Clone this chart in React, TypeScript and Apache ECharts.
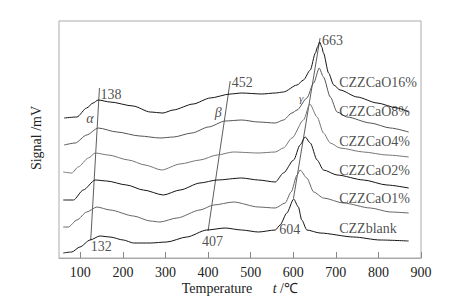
import React, { useEffect, useRef } from "react";
import * as echarts from "echarts";

// Temperature (°C) vs. signal (arbitrary offset units)
const seriesNames = ["CZZCaO16%", "CZZCaO8%", "CZZCaO4%", "CZZCaO2%", "CZZCaO1%", "CZZblank"];

const czz16: [number, number][] = [
  [62, 140], [92, 141], [115, 150], [130, 155], [142, 158], [170, 156], [224, 152], [264, 146],
  [294, 145], [318, 148], [365, 154], [405, 160], [452, 164], [479, 165], [526, 164], [558, 165],
  [577, 166], [609, 173], [624, 178], [640, 188], [652, 205], [657, 211], [662, 216], [667, 211],
  [671, 205], [683, 185], [695, 173], [710, 168], [750, 161], [797, 155], [844, 150], [871, 146],
];
const czz8: [number, number][] = [
  [62, 113], [88, 115], [115, 123], [142, 130], [186, 126], [240, 122], [287, 120], [319, 121],
  [362, 125], [401, 131], [440, 137], [479, 138], [518, 136], [558, 135], [577, 138], [597, 145],
  [609, 148], [632, 160], [648, 175], [661, 190], [671, 181], [687, 161], [703, 146], [726, 141],
  [781, 135], [828, 130], [871, 126],
];
const czz4: [number, number][] = [
  [60, 86], [80, 85], [95, 91], [119, 100], [135, 105], [166, 103], [213, 98], [252, 93],
  [291, 88], [334, 94], [381, 98], [421, 103], [459, 106], [518, 105], [558, 106], [577, 110],
  [597, 120], [624, 138], [639, 154], [656, 141], [671, 125], [687, 115], [710, 110], [765, 106],
  [820, 103], [871, 101],
];
const czz2: [number, number][] = [
  [60, 58], [84, 58], [107, 68], [135, 78], [162, 77], [209, 73], [248, 68], [295, 63],
  [334, 68], [381, 75], [421, 78], [479, 80], [518, 78], [558, 76], [577, 85], [601, 98],
  [616, 113], [628, 121], [640, 115], [656, 98], [671, 88], [703, 83], [765, 78], [820, 73],
  [871, 70],
];
const czz1: [number, number][] = [
  [60, 31], [72, 31], [92, 38], [115, 46], [139, 51], [170, 48], [225, 42], [264, 37],
  [287, 36], [327, 40], [381, 48], [413, 53], [460, 56], [518, 51], [558, 50], [581, 55],
  [595, 66], [609, 83], [616, 88], [632, 80], [648, 66], [671, 60], [718, 55], [781, 50],
  [828, 46], [871, 45],
];
const czzBlank: [number, number][] = [
  [60, 5], [80, 6], [99, 11], [123, 18], [146, 22], [170, 21], [201, 18], [225, 15],
  [264, 15], [303, 16], [350, 21], [397, 28], [440, 30], [479, 28], [518, 26], [558, 28],
  [569, 33], [585, 45], [601, 59], [612, 51], [620, 38], [632, 28], [663, 25], [742, 21],
  [804, 18], [871, 17],
];

// Peak guide lines (alpha, beta, gamma)
const alphaLine: [number, number][] = [[145, 170], [124.5, 18]];
const betaLine: [number, number][] = [[452, 177], [400, 27]];
const gammaLine: [number, number][] = [[663, 220], [600.6, 59.7]];

// Annotations: text, temperature at the text's left edge, signal
const peakLabels: [string, number, number][] = [
  ["138", 147.6, 164],
  ["132", 124.5, 11.5],
  ["452", 455.8, 176],
  ["407", 386, 16.3],
  ["663", 667.3, 217.5],
  ["604", 567, 29],
];
const greekLabels: [string, number, number][] = [
  ["α", 122.9, 140],
  ["β", 423.6, 146],
  ["γ", 618.7, 160],
];
const nameLabelT = 708;
const nameLabelY = [176, 146.3, 117, 88, 59.5, 29.3];

const xTicks = [100, 200, 300, 400, 500, 600, 700, 800, 900];

const lineColors = ["#151515", "#555555", "#777777", "#151515", "#666666", "#151515"];
const FONT = "'Liberation Serif', 'Times New Roman', serif";

export default function App() {
  const ref = useRef<HTMLDivElement>(null);
  useEffect(() => {
    const chart = echarts.init(ref.current!, null, { renderer: "svg" });
    const curves = [czz16, czz8, czz4, czz2, czz1, czzBlank];
    const lineSeries = curves.map((d, i) => ({
      type: "line",
      name: seriesNames[i],
      data: d,
      showSymbol: false,
      smooth: 0.25,
      smoothMonotone: "x",
      lineStyle: { color: lineColors[i], width: 1 },
      z: 3,
    }));
    const guideSeries = [alphaLine, betaLine, gammaLine].map((d) => ({
      type: "line",
      data: d,
      showSymbol: false,
      lineStyle: { color: "#333", width: 0.8 },
      z: 2,
    }));
    const labelData: any[] = [];
    peakLabels.forEach(([t, x, y]) =>
      labelData.push({
        value: [x, y],
        label: { show: true, formatter: t, position: "right", distance: 0, fontSize: 14 },
      })
    );
    greekLabels.forEach(([t, x, y], i) =>
      labelData.push({
        value: [x, y],
        label: {
          show: true,
          formatter: t,
          position: "inside",
          fontStyle: "italic",
          fontSize: i === 2 ? 11 : 14,
        },
      })
    );
    seriesNames.forEach((n, i) =>
      labelData.push({
        value: [nameLabelT, nameLabelY[i]],
        label: { show: true, formatter: n, position: "right", distance: 0, fontSize: 14 },
      })
    );
    chart.setOption({
      animation: false,
      backgroundColor: "#fff",
      grid: {
        left: 59,
        right: 37,
        top: 21,
        bottom: 49,
        show: true,
        borderColor: "#aaaaaa",
        borderWidth: 1,
        outerBoundsMode: "none",
      },
      xAxis: {
        type: "value",
        min: 50,
        max: 900,
        splitLine: { show: false },
        axisLine: { show: true, lineStyle: { color: "#aaaaaa" } },
        axisTick: {
          show: true,
          inside: true,
          length: 6,
          customValues: xTicks,
          lineStyle: { color: "#888888" },
        },
        axisLabel: {
          customValues: xTicks,
          fontFamily: FONT,
          fontSize: 14,
          color: "#222",
          margin: 7,
        },
      },
      yAxis: {
        type: "value",
        min: 0,
        max: 237,
        axisLine: { show: false },
        axisTick: { show: false },
        axisLabel: { show: false },
        splitLine: { show: false },
      },
      textStyle: { fontFamily: FONT },
      series: [
        ...lineSeries,
        ...guideSeries,
        {
          type: "scatter",
          symbolSize: 0,
          data: labelData,
          label: { color: "#222", fontFamily: FONT },
          z: 4,
          silent: true,
        },
      ],
      graphic: [
        {
          type: "text",
          x: 181.7,
          y: 288,
          style: {
            text: "Temperature",
            fontFamily: FONT,
            fontSize: 14,
            fill: "#222",
            verticalAlign: "middle",
          },
        },
        {
          type: "text",
          x: 272.7,
          y: 288,
          style: {
            text: "{i|t} /℃",
            fontFamily: FONT,
            fontSize: 14,
            fill: "#222",
            verticalAlign: "middle",
            rich: { i: { fontStyle: "italic", fontFamily: FONT, fontSize: 14, fill: "#222" } },
          },
        },
        {
          type: "text",
          x: 36,
          y: 138,
          rotation: Math.PI / 2,
          style: {
            text: "Signal /mV",
            fontFamily: FONT,
            fontSize: 14,
            fill: "#222",
            align: "center",
            verticalAlign: "middle",
          },
        },
      ],
    });
    return () => chart.dispose();
  }, []);
  return (
    <div
      ref={ref}
      style={{ position: "fixed", left: 0, top: 0, width: 458, height: 307, background: "#fff" }}
    />
  );
}
